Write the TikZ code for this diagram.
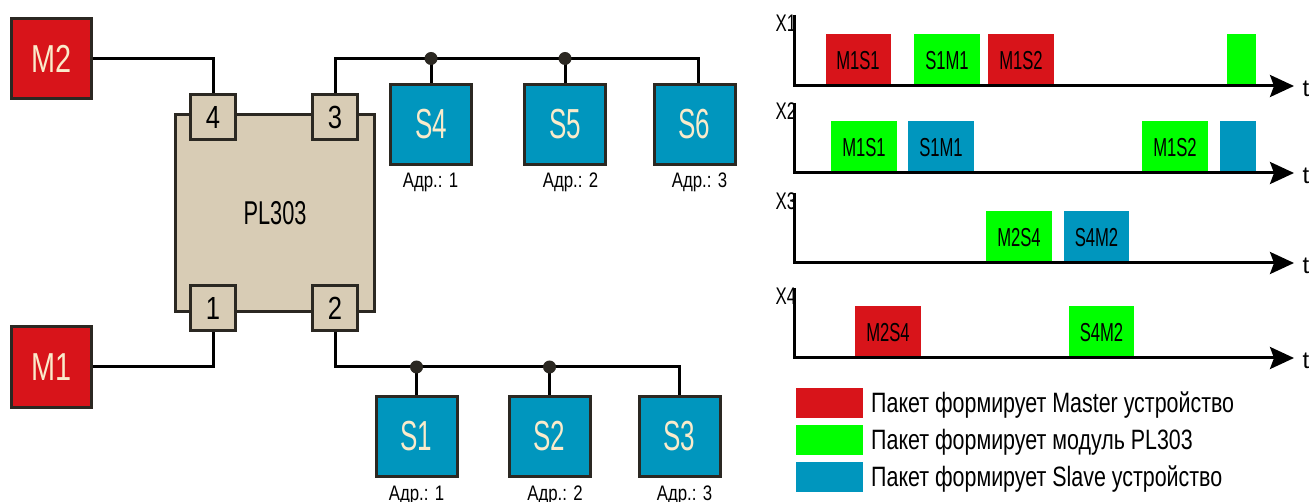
\documentclass[tikz,border=0pt]{standalone}
\usepackage{fontspec}
\setmainfont{Liberation Sans}
\newfontfamily\fntM[FakeStretch=0.74]{Liberation Sans}
\newfontfamily\fntS[FakeStretch=0.62]{Liberation Sans}
\newfontfamily\fntP[FakeStretch=0.66]{Liberation Sans}
\newfontfamily\fntD[FakeStretch=0.80]{Liberation Sans}
\newfontfamily\fntA[FakeStretch=0.80]{Liberation Sans}
\newfontfamily\fntL[FakeStretch=0.765]{Liberation Sans}
\newfontfamily\fntK[FakeStretch=0.64]{Liberation Sans}
\newfontfamily\fntX[FakeStretch=0.70]{Liberation Sans}
\usetikzlibrary{arrows.meta}
\definecolor{mred}{HTML}{D8141A}
\definecolor{sblue}{HTML}{0096BE}
\definecolor{pgreen}{HTML}{00FF00}
\definecolor{beige}{HTML}{D8CCB5}
\definecolor{bdr}{HTML}{2B2822}
\definecolor{cream}{HTML}{FAEBCB}
\begin{document}
\begin{tikzpicture}[x=1pt,y=-1pt,
  mbox/.style={draw=bdr,fill=mred,line width=3,minimum width=80,minimum height=80,inner sep=0,text=cream,font={\fntM\fontsize{39}{40}\selectfont}},
  sbox/.style={draw=bdr,fill=sblue,line width=3,minimum width=81,minimum height=80,inner sep=0,text=cream,font={\fntS\fontsize{42}{43}\selectfont}},
  port/.style={draw=bdr,fill=beige,line width=3,minimum size=45,inner sep=0,font={\fntD\fontsize{32}{33}\selectfont}},
  mainbox/.style={draw=bdr,fill=beige,line width=3,minimum width=199,minimum height=197,inner sep=0,font={\fntP\fontsize{33}{34}\selectfont}},
  wire/.style={line width=3,draw=black},
  dotc/.style={fill=bdr},
  adr/.style={inner sep=0,font={\fntA\fontsize{21}{22}\selectfont}},
  pkt/.style={minimum height=53,inner sep=0,font={\fntK\fontsize{26}{27}\selectfont}},
  axis/.style={line width=3,draw=black,-{Stealth[length=24,width=22,inset=4]}},
  xlab/.style={inner sep=0,font={\fntX\fontsize{24}{25}\selectfont}},
  tlab/.style={inner sep=0,font={\fontsize{24}{25}\selectfont}},
  legbox/.style={minimum width=67,minimum height=30,inner sep=0},
  legtxt/.style={inner sep=0,anchor=west,font={\fntL\fontsize{28}{29}\selectfont}}
]
\useasboundingbox (0,0) rectangle (1314,502);

% ---- left: network ----
\node[mainbox] (pl) at (275,213) {PL303};
\node[port] (p4) at (213,117) {4};
\node[port] (p3) at (335,117) {3};
\node[port] (p1) at (213,308.5) {1};
\node[port] (p2) at (335,308.5) {2};

\node[mbox] (M2) at (51.5,58.5) {M2};
\node[mbox] (M1) at (51.5,367) {M1};

\node[sbox] (S4) at (431,124.5) {S4};
\node[sbox] (S5) at (565,124.5) {S5};
\node[sbox] (S6) at (694.5,124.5) {S6};
\node[sbox] (S1) at (416.5,436) {S1};
\node[sbox] (S2) at (549.5,436) {S2};
\node[sbox] (S3) at (679.5,436) {S3};

\draw[wire] (M2.east) -| (p4.north);
\draw[wire] (M1.east) -| (p1.south);

\coordinate (b3) at (698,58.5);
\draw[wire] (p3.north) |- (b3) -- (b3 |- S6.north);
\draw[wire] (S4.north) -- (S4.north |- b3);
\draw[wire] (S5.north) -- (S5.north |- b3);
\fill[dotc] (S4.north |- b3) circle (6.5);
\fill[dotc] (S5.north |- b3) circle (6.5);

\coordinate (b2) at (679.5,367);
\draw[wire] (p2.south) |- (b2) -- (S3.north);
\draw[wire] (S1.north) -- (S1.north |- b2);
\draw[wire] (S2.north) -- (S2.north |- b2);
\fill[dotc] (S1.north |- b2) circle (6.5);
\fill[dotc] (S2.north |- b2) circle (6.5);

\node[adr] (a4) at (430.5,182) {Адр.: 1};
\node[adr] (a5) at (570.5,182) {Адр.: 2};
\node[adr] (a6) at (699.5,182) {Адр.: 3};
\node[adr] (a1) at (416.5,495) {Адр.: 1};
\node[adr] (a2) at (555,495) {Адр.: 2};
\node[adr] (a3) at (684.5,495) {Адр.: 3};

% ---- right: timing ----
% X1
\node[pkt,fill=mred,minimum width=65] (k11) at (858,60.5) {M1S1};
\node[pkt,fill=pgreen,minimum width=66] (k12) at (947,60.5) {S1M1};
\node[pkt,fill=mred,minimum width=66] (k13) at (1021,60.5) {M1S2};
\node[pkt,fill=pgreen,minimum width=29] (k14) at (1241.5,60.5) {};
% X2
\node[pkt,fill=pgreen,minimum width=66] (k21) at (864,147.5) {M1S1};
\node[pkt,fill=sblue,minimum width=66] (k22) at (941,147.5) {S1M1};
\node[pkt,fill=pgreen,minimum width=66] (k23) at (1175,147.5) {M1S2};
\node[pkt,fill=sblue,minimum width=36] (k24) at (1238,147.5) {};
% X3
\node[pkt,fill=pgreen,minimum width=66] (k31) at (1019,237.5) {M2S4};
\node[pkt,fill=sblue,minimum width=65] (k32) at (1096.5,237.5) {S4M2};
% X4
\node[pkt,fill=mred,minimum width=66] (k41) at (888,332.5) {M2S4};
\node[pkt,fill=pgreen,minimum width=65] (k42) at (1101.5,332.5) {S4M2};

\foreach \i/\yt/\ya in {1/15/86, 2/103/173, 3/193/263, 4/288/358} {
  \coordinate (t\i) at (794.5,\yt);
  \coordinate (o\i) at (794.5,\ya);
  \coordinate (e\i) at (1294,\ya);
  \draw[axis] (t\i) -- (o\i) -- (e\i);
}
\node[xlab] (X1) at (786,23.5) {X1};
\node[xlab] (X2) at (786,111.5) {X2};
\node[xlab] (X3) at (786,201.5) {X3};
\node[xlab] (X4) at (786,296.5) {X4};
\node[tlab] (tt1) at (1306,89) {t};
\node[tlab] (tt2) at (1306,176) {t};
\node[tlab] (tt3) at (1306,266) {t};
\node[tlab] (tt4) at (1306,361) {t};

% legend
\node[legbox,fill=mred] (l1) at (829.5,403) {};
\node[legbox,fill=pgreen] (l2) at (829.5,439.5) {};
\node[legbox,fill=sblue] (l3) at (829.5,477) {};
\node[legtxt] (lt1) at (871,405) {Пакет формирует Master устройство};
\node[legtxt] (lt2) at (871,442) {Пакет формирует модуль PL303};
\node[legtxt] (lt3) at (871,479) {Пакет формирует Slave устройство};
\end{tikzpicture}
\end{document}
